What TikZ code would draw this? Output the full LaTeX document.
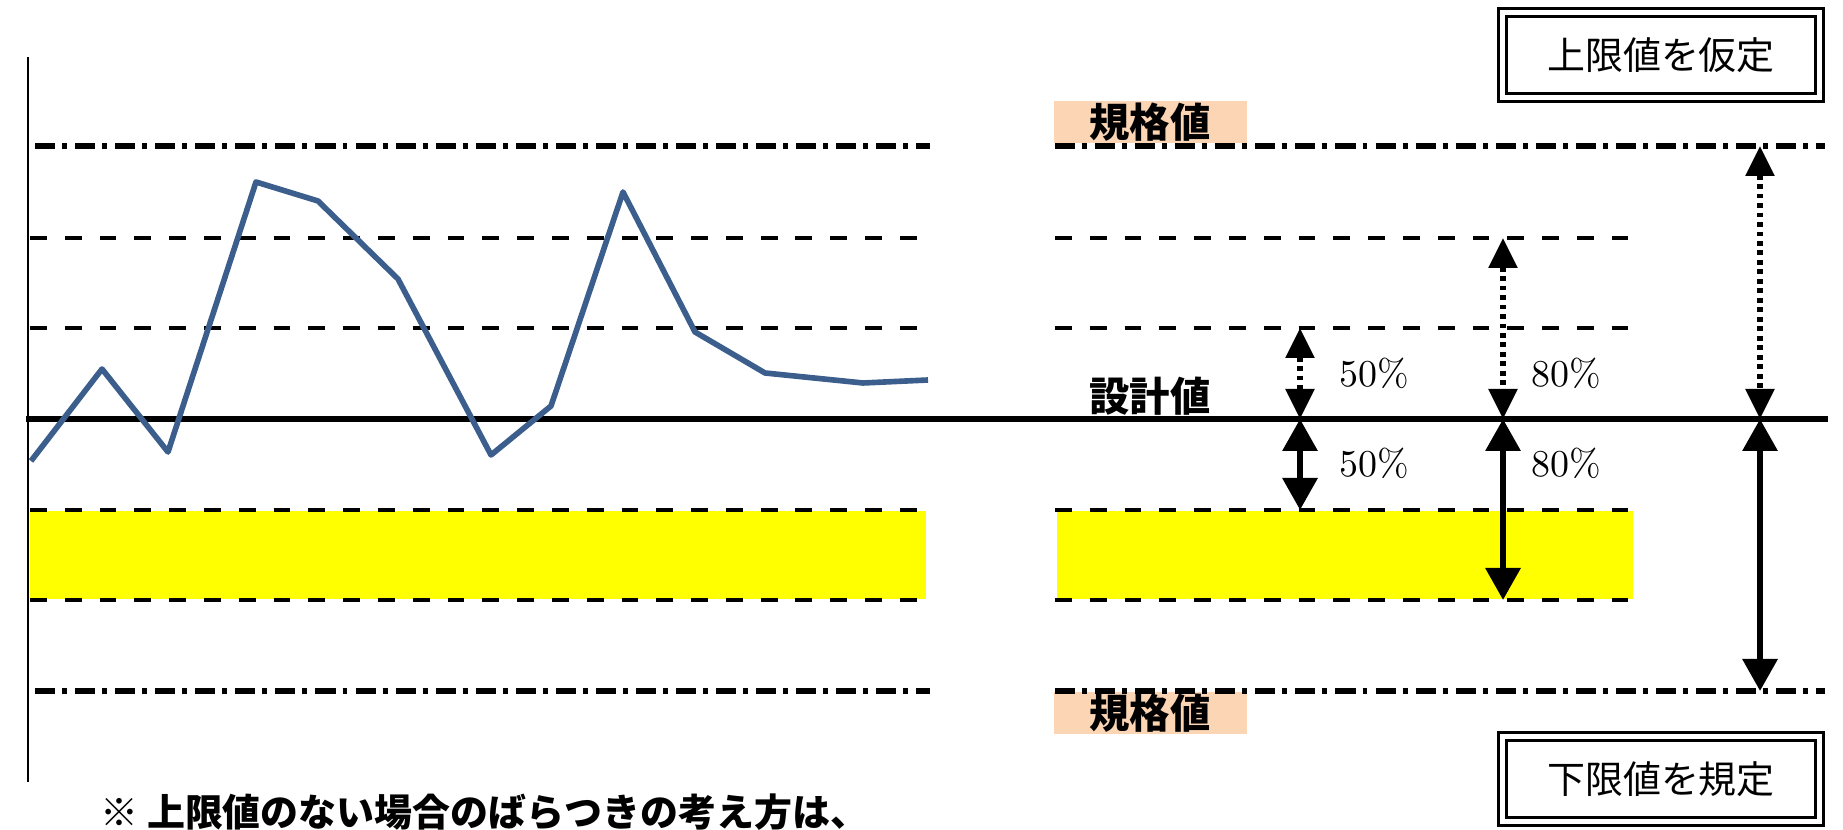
\documentclass[tikz,border=0pt]{standalone}
\usepackage{fontspec}
\usepackage{xcolor}
\usepackage{tikz}
\usetikzlibrary{arrows.meta, positioning}
\newfontfamily\jpfont{Noto Sans CJK JP}
\definecolor{trendblue}{RGB}{59, 94, 140}
\definecolor{speccolor}{RGB}{252, 213, 180}
\definecolor{bandyellow}{RGB}{255, 255, 0}

\begin{document}
\begin{tikzpicture}[
    specline/.style={line width=1.6pt, dash pattern=on 5.7pt off 2pt on 1.4pt off 2.3pt},
    limline/.style={line width=1.2pt, dash pattern=on 4.8pt off 5.1pt},
    speclabel/.style={rectangle, fill=speccolor, minimum width=1.93cm, minimum height=0.42cm, inner sep=0pt,
                      font=\jpfont\bfseries\fontsize{11.5}{12}\selectfont},
    limitbox/.style={rectangle, draw, double, double distance=1.2pt, line width=1pt,
                     minimum width=3.17cm, minimum height=0.85cm, font=\jpfont\fontsize{10.8}{12}\selectfont},
    pct/.style={font=\fontsize{10.8}{12}\selectfont},
    dotarrow/.style={{Triangle[width=0.28cm,length=0.3cm]}-{Triangle[width=0.28cm,length=0.3cm]},
                     line width=1.6pt, dash pattern=on 1.4pt off 1.3pt},
    solidarrow/.style={{Triangle[width=0.34cm,length=0.32cm]}-{Triangle[width=0.34cm,length=0.32cm]}, line width=1.8pt}
]
\useasboundingbox (0,0) rectangle (18.43,8.29);

% Tolerance bands
\fill[bandyellow] (0.30,2.30) rectangle (9.26,3.18);
\fill[bandyellow] (10.57,2.30) rectangle (16.33,3.18);

% Spec labels
\node[speclabel] (spectop) at (11.50,7.07) {規格値};
\node[speclabel] (specbot) at (11.50,1.16) {規格値};

% Axis
\draw[line width=0.8pt] (0.28,7.72) -- (0.28,0.47);

% Level lines - left chart
\draw[specline] (0.35,6.83) -- (9.30,6.83);
\draw[limline] (0.30,5.91) -- (9.18,5.91);
\draw[limline] (0.30,5.01) -- (9.18,5.01);
\draw[limline] (0.30,3.19) -- (9.18,3.19);
\draw[limline] (0.30,2.29) -- (9.18,2.29);
\draw[specline] (0.35,1.38) -- (9.30,1.38);

% Level lines - right chart
\draw[specline] (10.55,6.83) -- (18.25,6.83);
\draw[limline] (10.55,5.91) -- (16.28,5.91);
\draw[limline] (10.55,5.01) -- (16.28,5.01);
\draw[limline] (10.55,3.19) -- (16.28,3.19);
\draw[limline] (10.55,2.29) -- (16.28,2.29);
\draw[specline] (10.55,1.38) -- (18.25,1.38);

% Design value
\draw[line width=1.8pt] (0.26,4.10) -- (18.28,4.10);
\node[font=\jpfont\bfseries\fontsize{11.5}{12}\selectfont] (design) at (11.50,4.33) {設計値};

% Measured values
\draw[trendblue, line width=1.6pt, line join=round]
    (0.31,3.68) -- (1.02,4.60) -- (1.68,3.77) -- (2.56,6.47) -- (3.18,6.28) -- (3.98,5.50)
    -- (4.91,3.74) -- (5.51,4.23) -- (6.23,6.37) -- (6.95,4.97) -- (7.65,4.56) -- (8.63,4.46) -- (9.28,4.49);

% Limit boxes
\node[limitbox] (upper) at (16.61,7.74) {上限値を仮定};
\node[limitbox] (lower) at (16.61,0.50) {下限値を規定};

% 50% arrows
\coordinate (h50top) at (13.00,5.01);
\coordinate (h50mid) at (13.00,4.10);
\coordinate (h50bot) at (13.00,3.19);
\draw[dotarrow] (h50top) -- (h50mid);
\draw[solidarrow] (h50mid) -- (h50bot);
\node[pct] (p50top) at (13.74,4.56) {50\%};
\node[pct] (p50bot) at (13.74,3.66) {50\%};

% 80% arrows
\coordinate (h80top) at (15.03,5.91);
\coordinate (h80mid) at (15.03,4.10);
\coordinate (h80bot) at (15.03,2.29);
\draw[dotarrow] (h80top) -- (h80mid);
\draw[solidarrow] (h80mid) -- (h80bot);
\node[pct] (p80top) at (15.66,4.56) {80\%};
\node[pct] (p80bot) at (15.66,3.66) {80\%};

% Spec arrows
\coordinate (hsptop) at (17.60,6.83);
\coordinate (hspmid) at (17.60,4.10);
\coordinate (hspbot) at (17.60,1.38);
\draw[dotarrow] (hsptop) -- (hspmid);
\draw[solidarrow] (hspmid) -- (hspbot);

% Note
\node[font=\jpfont\bfseries\fontsize{10.8}{12}\selectfont, anchor=west] (note) at (0.88,0.17)
    {※ 上限値のない場合のばらつきの考え方は、};

\end{tikzpicture}
\end{document}
